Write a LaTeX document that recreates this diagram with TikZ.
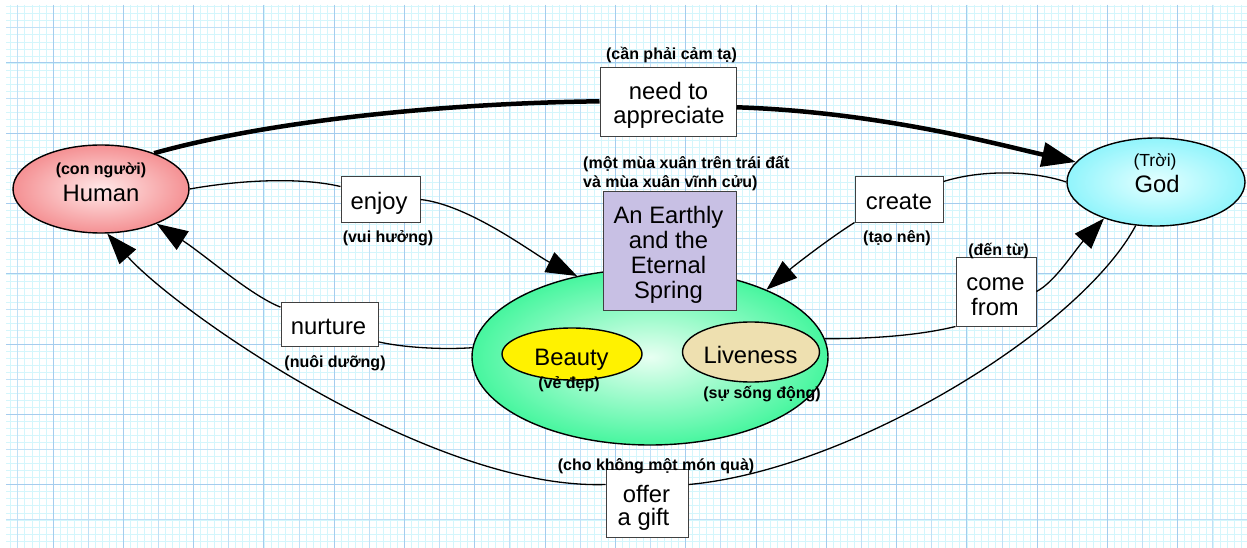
\documentclass[tikz,border=0pt]{standalone}
\usepackage{fontspec}
\setmainfont{Liberation Sans}
\usetikzlibrary{arrows.meta,shapes.geometric}
\definecolor{humedge}{RGB}{238,92,96}
\definecolor{humcen}{RGB}{255,232,232}
\definecolor{godedge}{RGB}{95,238,250}
\definecolor{godcen}{RGB}{228,255,255}
\definecolor{grnedge}{RGB}{0,242,122}
\definecolor{grncen}{RGB}{232,255,242}
\definecolor{beautyc}{RGB}{255,242,0}
\definecolor{livec}{RGB}{238,224,176}
\definecolor{titlec}{RGB}{200,192,228}
\definecolor{gminor}{RGB}{212,246,252}
\definecolor{gmid}{RGB}{192,224,246}
\definecolor{gmajor}{RGB}{165,204,238}
\pgfdeclareradialshading{humsh}{\pgfpoint{0bp}{0bp}}{color(0bp)=(humcen); color(40bp)=(humedge); color(72bp)=(humedge)}
\pgfdeclareradialshading{godsh}{\pgfpoint{0bp}{0bp}}{color(0bp)=(godcen); color(40bp)=(godedge); color(72bp)=(godedge)}
\pgfdeclareradialshading{grnsh}{\pgfpoint{0bp}{0bp}}{color(0bp)=(grncen); color(36bp)=(grnedge); color(72bp)=(grnedge)}
\newcommand\vnlab{\fontsize{16}{19}\selectfont\bfseries}
\newcommand\vnreg{\fontsize{17.5}{20}\selectfont}
\newcommand\enlab{\fontsize{23.8}{25}\selectfont}
\tikzset{
  ell/.style={ellipse, draw=black, line width=1.4pt, inner sep=0pt},
  lbox/.style={rectangle, draw=black!75, line width=1pt, fill=white, inner sep=0pt},
  entext/.style={font=\enlab, anchor=base, inner sep=0pt},
  vntext/.style={font=\vnlab, anchor=base, inner sep=0pt},
  link/.style={line width=1.3pt, draw=black},
  thicklink/.style={line width=4.5pt, draw=black},
  arrowhd/.style={-{Triangle[length=31pt,width=22pt]}},
  bigarrowhd/.style={-{Triangle[length=34pt,width=24pt]}},
  gminorline/.style={draw=gminor, line width=0.8pt},
  gmidline/.style={draw=gmid, line width=1pt},
  gmajorline/.style={draw=gmajor, line width=1pt}
}
\begin{document}
\begin{tikzpicture}[x=1pt,y=-1pt]
\useasboundingbox (0,0) rectangle (1247,548);
\fill[white] (0,0) rectangle (1247,548);
% grid
\foreach \i in {-1,...,175} \draw[gminorline] ({17.85+\i*7.03},5) -- ({17.85+\i*7.03},548);
\foreach \j in {-3,...,74} \draw[gminorline] (6,{27.85+\j*7.03}) -- (1247,{27.85+\j*7.03});
\foreach \i in {0,...,17} \draw[gmidline] ({17.85+\i*70.3},5) -- ({17.85+\i*70.3},548);
\foreach \j in {0,...,7} \draw[gmidline] (6,{27.85+\j*70.3}) -- (1247,{27.85+\j*70.3});
\foreach \i in {0,...,17} \draw[gmajorline] ({53+\i*70.3},5) -- ({53+\i*70.3},548);
\foreach \j in {0,...,6} \draw[gmajorline] (6,{63+\j*70.3}) -- (1247,{63+\j*70.3});

% main nodes
\node[ell, shade, shading=humsh, minimum width=176pt, minimum height=88pt] (human) at (101,189) {};
\node[ell, shade, shading=godsh, minimum width=178pt, minimum height=88pt] (god) at (1156,182) {};
\node[ell, shade, shading=grnsh, minimum width=356pt, minimum height=176pt] (spring) at (650,357) {};
\node[ell, fill=beautyc, minimum width=140pt, minimum height=52pt] (beauty) at (572,354) {};
\node[ell, fill=livec, minimum width=137pt, minimum height=60pt] (live) at (751,352) {};
\node[lbox, fill=titlec, minimum width=133pt, minimum height=118pt] (title) at (669.5,251) {};

% link boxes
\node[lbox, minimum width=136pt, minimum height=69pt] (need) at (668,102.5) {};
\node[lbox, minimum width=79pt, minimum height=45pt] (enjoy) at (380.5,199.5) {};
\node[lbox, minimum width=88pt, minimum height=45pt] (create) at (899,199.5) {};
\node[lbox, minimum width=80pt, minimum height=69pt] (come) at (996,291.5) {};
\node[lbox, minimum width=97pt, minimum height=44pt] (nurture) at (329.5,324) {};
\node[lbox, minimum width=82pt, minimum height=68pt] (offer) at (647,503) {};

% connectors
\draw[thicklink] (human.34) .. controls (280,118) and (460,103) .. (need.179);
\draw[thicklink, bigarrowhd] (need.-4) .. controls (880,112) and (1000,145) .. (god.166);
\draw[link] (human.east) .. controls (240,180) and (300,177) .. (enjoy.162);
\draw[link, arrowhd] (enjoy.east) .. controls (470,205) and (535,255) .. (spring.132);
\draw[link] (god.180) .. controls (1030,170) and (980,170) .. (create.22);
\draw[link, arrowhd] (create.south west) .. controls (830,238) and (795,265) .. (spring.30);
\draw[link] (spring.6) .. controls (880,339) and (925,334) .. (come.south west);
\draw[link, arrowhd] (come.east) .. controls (1055,282) and (1075,250) .. (god.215);
\draw[link] (spring.177) .. controls (440,350) and (400,347) .. (nurture.-20);
\draw[link, arrowhd] (nurture.161) .. controls (250,295) and (205,255) .. (human.-32);
\draw[link] (god.245) .. controls (1080,330) and (850,470) .. (offer.24);
\draw[link, arrowhd] (offer.156) .. controls (430,490) and (175,310) .. (human.-82);

% texts
\node[vntext] (humanvn) at (101,175) {(con người)};
\node[entext] (humanen) at (101,201) {Human};
\node[inner sep=0pt, anchor=base, font=\vnreg] (godvn) at (1155,167) {(Trời)};
\node[entext] (goden) at (1157,193) {God};
\node[vntext] (needvn) at (671.5,60) {(cần phải cảm tạ)};
\node[entext] (needa) at (668.5,100) {need to};
\node[entext] (needb) at (669,124) {appreciate};
\node[vntext, anchor=base west] (titlevna) at (583,169) {(một mùa xuân trên trái đất};
\node[vntext, anchor=base west] (titlevnb) at (583,188) {và mùa xuân vĩnh cửu)};
\node[entext] (titlea) at (668.5,223) {An Earthly};
\node[entext] (titleb) at (668.5,248) {and the};
\node[entext] (titlec) at (668.5,273) {Eternal};
\node[entext] (titled) at (668.5,298) {Spring};
\node[entext] (enjoyen) at (379,210) {enjoy};
\node[vntext] (enjoyvn) at (388,242) {(vui hưởng)};
\node[entext] (createen) at (899,209) {create};
\node[vntext] (createvn) at (897,242) {(tạo nên)};
\node[vntext] (comevn) at (998.5,255) {(đến từ)};
\node[entext] (comea) at (995.5,290) {come};
\node[entext] (comeb) at (995,315) {from};
\node[entext] (nurtureen) at (328.5,334) {nurture};
\node[vntext] (nurturevn) at (335,367) {(nuôi dưỡng)};
\node[entext] (beautyen) at (571.5,365) {Beauty};
\node[vntext] (beautyvn) at (569,388) {(vẻ đẹp)};
\node[entext] (liveen) at (750.5,363) {Liveness};
\node[vntext] (livevn) at (762,398) {(sự sống động)};
\node[vntext] (offervn) at (656,470) {(cho không một món quà)};
\node[entext] (offera) at (646.5,502) {offer};
\node[entext] (offerb) at (643.5,525) {a gift};
\end{tikzpicture}
\end{document}
